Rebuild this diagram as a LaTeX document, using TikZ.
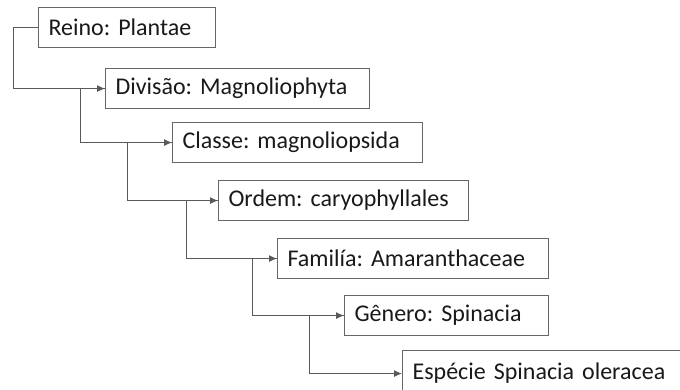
\documentclass[tikz,border=0pt]{standalone}
\usepackage{fontspec}
\setmainfont{Carlito}
\usetikzlibrary{arrows.meta}

\tikzset{
  taxbox/.style={draw=black!60, line width=1.1pt, anchor=north west, align=left,
    inner xsep=10pt, inner ysep=0pt, minimum height=40pt, text=black!90,
    font=\fontsize{24}{28}\selectfont\frenchspacing},
  link/.style={draw=black!65, line width=1pt, -{Latex[length=8pt,width=7pt]}}
}

\begin{document}
\begin{tikzpicture}[x=1pt,y=-1pt]
  \useasboundingbox (0,0) rectangle (680,389);
  \clip (0,0) rectangle (680,389);
  % boxes of the classification
  \node[taxbox, text width=157pt] (reino)   at (38,7)   {Reino: Plantae};
  \node[taxbox, text width=244pt] (divisao) at (105,68) {Divisão: Magnoliophyta};
  \node[taxbox, text width=230pt] (classe)  at (172,122) {Classe: magnoliopsida};
  \node[taxbox, text width=230pt] (ordem)   at (218,180) {Ordem: caryophyllales};
  \node[taxbox, text width=251pt] (familia) at (277,238) {Familía: Amaranthaceae};
  \node[taxbox, text width=184pt] (genero)  at (344,295) {Gênero: Spinacia};
  \node[taxbox, text width=300pt, minimum height=46pt] (especie) at (402,350) {Espécie Spinacia oleracea};
  % connectors
  \foreach \a/\b/\d in {reino/divisao/25, divisao/classe/25, classe/ordem/45,
                        ordem/familia/32, familia/genero/25, genero/especie/35} {
    \draw[link] (\a.west) -- ([xshift=-\d pt]\a.west) |- (\b.west);
  }
\end{tikzpicture}
\end{document}
